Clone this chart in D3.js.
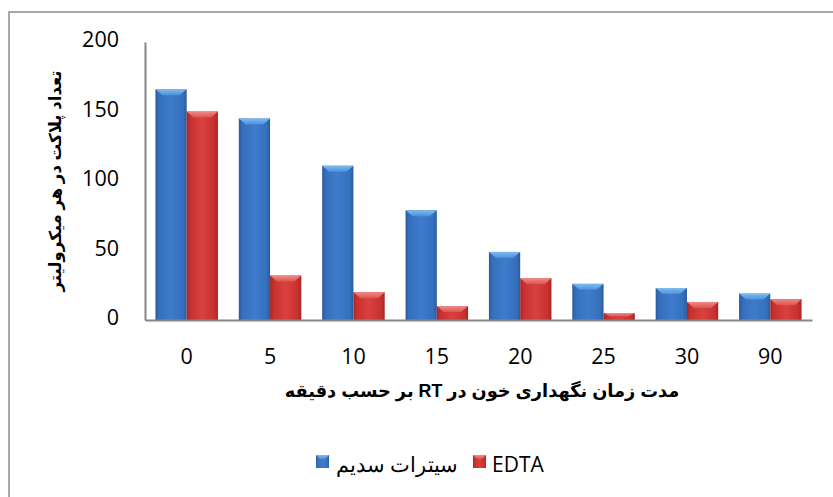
<!DOCTYPE html>
<html><head><meta charset="utf-8">
<script src="https://cdn.jsdelivr.net/npm/d3@7"></script>
<style>body{margin:0;background:#fff}svg{display:block}</style>
</head><body>
<svg id="c" width="833" height="497"></svg>
<script>
const categories = ["0","5","10","15","20","25","30","90"];
const citrateValues = [166,145,111,79,49,26,23,19];
const edtaValues = [150,32,20,10,30,5,13,15];
const yTicks = [0,50,100,150,200];
const seriesNames = ["سیترات سدیم","EDTA"];
const xTitle = "مدت زمان نگهداری خون در RT بر حسب دقیقه";
const yTitle = "تعداد پلاکت در هر میکرولیتر";

const svg = d3.select("#c");
const defs = svg.append("defs");
const fnt = "'Open Sans','Liberation Sans',sans-serif";

// outer frame
svg.append("rect").attr("x",9).attr("y",12).attr("width",840).attr("height",500)
  .attr("fill","none").attr("stroke","#8c8c8c").attr("stroke-width",1.5);

const x = d3.scaleBand().domain(categories).range([145,812]).paddingInner(0.25).paddingOuter(0.125);
const xs = d3.scaleBand().domain([0,1]).range([0,x.bandwidth()]);
const y = d3.scaleLinear().domain([0,200]).range([320,42]);

const colors = [
  {dark:"#2a5a9e", mid:"#3f7bcc", light:"#3570bd", top:"#7fbcf2", topDark:"#4f8fd8"},
  {dark:"#a52825", mid:"#d8413d", light:"#c8312e", top:"#f08a86", topDark:"#dc5450"}
];
colors.forEach((c,i)=>{
  const g = defs.append("linearGradient").attr("id","g"+i).attr("x1","0").attr("x2","1").attr("y1","0").attr("y2","0");
  g.append("stop").attr("offset","0").attr("stop-color",c.dark);
  g.append("stop").attr("offset","0.12").attr("stop-color",c.light);
  g.append("stop").attr("offset","0.5").attr("stop-color",c.mid);
  g.append("stop").attr("offset","0.88").attr("stop-color",c.light);
  g.append("stop").attr("offset","1").attr("stop-color",c.dark);
  const t = defs.append("linearGradient").attr("id","t"+i).attr("x1","0").attr("x2","0").attr("y1","0").attr("y2","1");
  t.append("stop").attr("offset","0").attr("stop-color",c.top);
  t.append("stop").attr("offset","1").attr("stop-color",c.topDark);
});

const data = [];
categories.forEach((cat,i)=>{
  data.push({cat, s:0, v:citrateValues[i]});
  data.push({cat, s:1, v:edtaValues[i]});
});

const bars = svg.append("g").selectAll("g").data(data).join("g");
bars.append("rect")
  .attr("x", d=>x(d.cat)+xs(d.s))
  .attr("y", d=>y(d.v))
  .attr("width", xs.bandwidth())
  .attr("height", d=>y(0)-y(d.v))
  .attr("fill", d=>"url(#g"+d.s+")");
bars.append("path")
  .attr("d", d=>{
    const x0 = x(d.cat)+xs(d.s), x1 = x0+xs.bandwidth(), t = y(d.v);
    const h = Math.min(6, (y(0)-t)/2), inset = 7;
    return `M${x0},${t}L${x1},${t}L${x1-inset},${t+h}L${x0+inset},${t+h}Z`;
  })
  .attr("fill", d=>"url(#t"+d.s+")");

// axes
const yAxis = svg.append("g").attr("transform","translate(145,0)")
  .call(d3.axisLeft(y).tickValues(yTicks).tickSize(0).tickPadding(26));
yAxis.select(".domain").attr("stroke","#868686").attr("stroke-width",2);
yAxis.selectAll("text").attr("font-family",fnt).attr("font-size",21.5).attr("fill","#000").attr("dy","0.21em");

const xAxis = svg.append("g").attr("transform","translate(0,320)")
  .call(d3.axisBottom(x).tickSize(0).tickPadding(44));
xAxis.select(".domain").attr("stroke","#868686").attr("stroke-width",2);
xAxis.selectAll("text").attr("font-family",fnt).attr("font-size",21.5).attr("fill","#000").attr("dy","0");

// titles
svg.append("text").attr("x",482).attr("y",397).attr("text-anchor","middle")
  .attr("font-family","'Liberation Sans','DejaVu Sans',sans-serif").attr("font-weight","bold").attr("font-size",17.8)
  .attr("direction","rtl").style("unicode-bidi","embed").text(xTitle);
svg.append("text").attr("transform","translate(61,181) rotate(-90)").attr("text-anchor","middle")
  .attr("font-family","'Liberation Sans','DejaVu Sans',sans-serif").attr("font-weight","bold").attr("font-size",16.6)
  .attr("direction","rtl").style("unicode-bidi","embed").text(yTitle);

// legend
const leg = [
  {s:0, sx:316, tx:336, name:seriesNames[0]},
  {s:1, sx:473, tx:492, name:seriesNames[1]}
];
const lg = svg.append("g").selectAll("g").data(leg).join("g");
lg.append("rect").attr("x",d=>d.sx).attr("y",455).attr("width",13).attr("height",13)
  .attr("fill",d=>"url(#g"+d.s+")");
lg.append("path").attr("d",d=>`M${d.sx},455L${d.sx+13},455L${d.sx+9},459L${d.sx+4},459Z`)
  .attr("fill",d=>"url(#t"+d.s+")");
lg.append("text").attr("x",d=>d.tx).attr("y",471.5).attr("font-family",fnt).attr("font-size",21)
  .text(d=>d.name);
</script>
</body></html>
